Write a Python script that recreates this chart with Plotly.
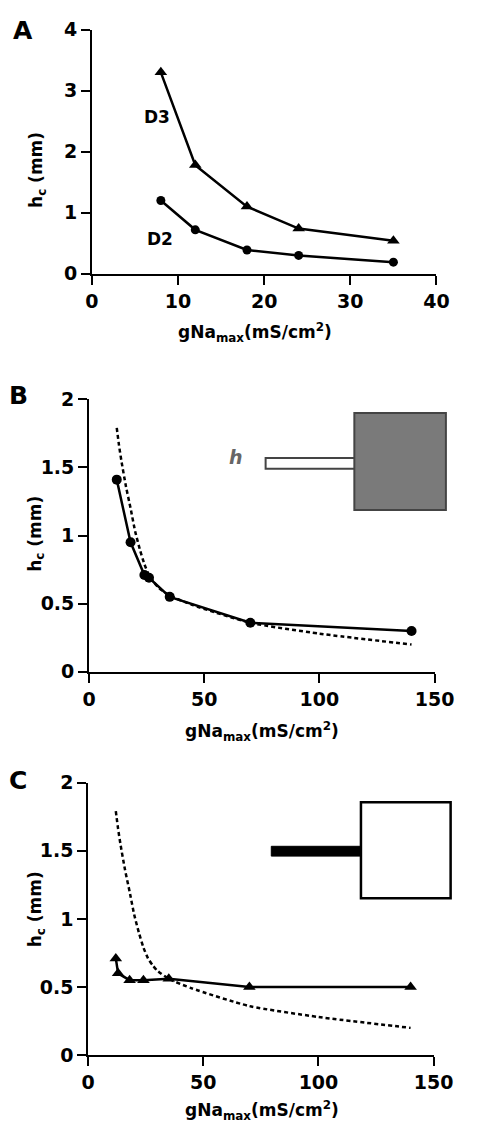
import plotly.graph_objects as go

# ---------------- data ----------------
# Panel A
a_x = [8, 12, 18, 24, 35]
a_d3 = [3.3, 1.78, 1.1, 0.74, 0.54]
a_d2 = [1.2, 0.72, 0.39, 0.3, 0.19]

# Panel B
b_x = [12, 18, 24, 26, 35, 70, 140]
b_y = [1.41, 0.95, 0.71, 0.69, 0.55, 0.36, 0.30]

# Panel C
c_x = [12, 13, 18, 24, 35, 70, 140]
c_y = [0.71, 0.6, 0.55, 0.55, 0.56, 0.5, 0.5]

# dashed reference curve (B and C)
dash_x = [12, 13, 14, 16, 18, 20, 22, 24, 26, 28, 30, 35, 45, 70, 100, 140]
dash_y = [1.79, 1.66, 1.55, 1.36, 1.2, 1.03, 0.9, 0.79, 0.71, 0.66, 0.62, 0.56, 0.49, 0.36, 0.28, 0.2]

a_xticks = [0, 10, 20, 30, 40]
a_yticks = [0, 1, 2, 3, 4]
bc_xticks = [0, 50, 100, 150]
bc_yticks = [0, 0.5, 1, 1.5, 2]
bc_ytext = ["0", "0.5", "1", "1.5", "2"]

W, H = 481, 1123
FONT = "DejaVu Sans, Verdana, sans-serif"


def px(x):
    return x / W


def py(y):
    return 1 - y / H


fig = go.Figure()

line = dict(color="black", width=2.5)
fig.add_trace(go.Scatter(x=a_x, y=a_d3, mode="lines+markers", line=line,
                         marker=dict(symbol="triangle-up", size=11, color="black"),
                         xaxis="x", yaxis="y", showlegend=False))
fig.add_trace(go.Scatter(x=a_x, y=a_d2, mode="lines+markers", line=line,
                         marker=dict(symbol="circle", size=9, color="black"),
                         xaxis="x", yaxis="y", showlegend=False))

dashline = dict(color="black", width=2.5, dash="4px,3px", shape="spline", smoothing=0.6)
fig.add_trace(go.Scatter(x=dash_x, y=dash_y, mode="lines", line=dashline,
                         xaxis="x2", yaxis="y2", showlegend=False))
fig.add_trace(go.Scatter(x=b_x, y=b_y, mode="lines+markers", line=line,
                         marker=dict(symbol="circle", size=10, color="black"),
                         xaxis="x2", yaxis="y2", showlegend=False))

fig.add_trace(go.Scatter(x=dash_x, y=dash_y, mode="lines", line=dashline,
                         xaxis="x3", yaxis="y3", showlegend=False))
fig.add_trace(go.Scatter(x=c_x, y=c_y, mode="lines+markers", line=line,
                         marker=dict(symbol="triangle-up", size=11, color="black"),
                         xaxis="x3", yaxis="y3", showlegend=False))

tickfont = dict(family=FONT, size=19, color="black", weight="bold")
common = dict(showgrid=False, zeroline=False, showline=True, linecolor="black",
              linewidth=2, ticks="outside", ticklen=9, tickwidth=2,
              tickcolor="black", tickfont=tickfont, fixedrange=True)

fig.update_layout(
    width=W, height=H,
    margin=dict(l=0, r=0, t=0, b=0),
    paper_bgcolor="white", plot_bgcolor="white",
    xaxis=dict(domain=[px(90), px(455)], range=[0, 40], tickvals=a_xticks,
               anchor="y", **common),
    yaxis=dict(domain=[py(268), py(19)], range=[0, 4], tickvals=a_yticks,
               anchor="x", **common),
    xaxis2=dict(domain=[px(87), px(453)], range=[0, 150], tickvals=bc_xticks,
                anchor="y2", **common),
    yaxis2=dict(domain=[py(674), py(396)], range=[0, 2], tickvals=bc_yticks,
                ticktext=bc_ytext, anchor="x2", **common),
    xaxis3=dict(domain=[px(86), px(452)], range=[0, 150], tickvals=bc_xticks,
                anchor="y3", **common),
    yaxis3=dict(domain=[py(1065), py(787)], range=[0, 2], tickvals=bc_yticks,
                ticktext=bc_ytext, anchor="x3", **common),
)

ann = []
titlefont = dict(family=FONT, size=17, color="black", weight="bold")
xtitle = "gNa<sub>max</sub>(mS/cm<sup>2</sup>)"
ytitle = "h<sub>c</sub> (mm)"
for cx, cy in [(263, 328), (270, 735), (270, 1121)]:
    ann.append(dict(x=px(cx), y=py(cy), xref="paper", yref="paper", text=xtitle,
                    showarrow=False, font=titlefont, xanchor="center", yanchor="middle"))
for cx, cy in [(33, 162), (31, 533), (31, 916)]:
    ann.append(dict(x=px(cx), y=py(cy), xref="paper", yref="paper", text=ytitle,
                    textangle=-90, showarrow=False, font=titlefont,
                    xanchor="center", yanchor="middle"))
labelfont = dict(family=FONT, size=25, color="black", weight="bold")
for t, cx, cy in [("A", 17, 20), ("B", 12, 392), ("C", 12, 785)]:
    ann.append(dict(x=px(cx), y=py(cy), xref="paper", yref="paper", text=t,
                    showarrow=False, font=labelfont, xanchor="center", yanchor="middle"))
for t, cx, cy in [("D3", 159, 108), ("D2", 162, 233)]:
    ann.append(dict(x=px(cx), y=py(cy), xref="paper", yref="paper", text=t,
                    showarrow=False, font=dict(family=FONT, size=17, color="black", weight="bold"),
                    xanchor="center", yanchor="middle"))
ann.append(dict(x=px(243), y=py(455), xref="paper", yref="paper", text="<i>h</i>",
                showarrow=False, font=dict(family=FONT, size=19, color="#666666", weight="bold"),
                xanchor="center", yanchor="middle"))
fig.update_layout(annotations=ann)

shapes = [
    # panel B inset: stem + shaded soma
    dict(type="rect", xref="paper", yref="paper", x0=px(274), x1=px(369),
         y0=py(467), y1=py(456), fillcolor="white", line=dict(color="#444444", width=2)),
    dict(type="rect", xref="paper", yref="paper", x0=px(368), x1=px(465),
         y0=py(509), y1=py(410), fillcolor="#7a7a7a", line=dict(color="#444444", width=2)),
    # panel C inset: black stem + open soma
    dict(type="rect", xref="paper", yref="paper", x0=px(280), x1=px(376),
         y0=py(862), y1=py(852), fillcolor="black", line=dict(color="black", width=1)),
    dict(type="rect", xref="paper", yref="paper", x0=px(375), x1=px(470),
         y0=py(905), y1=py(807), fillcolor="white", line=dict(color="black", width=2.5)),
]
fig.update_layout(shapes=shapes)

fig.write_html("out.html")
